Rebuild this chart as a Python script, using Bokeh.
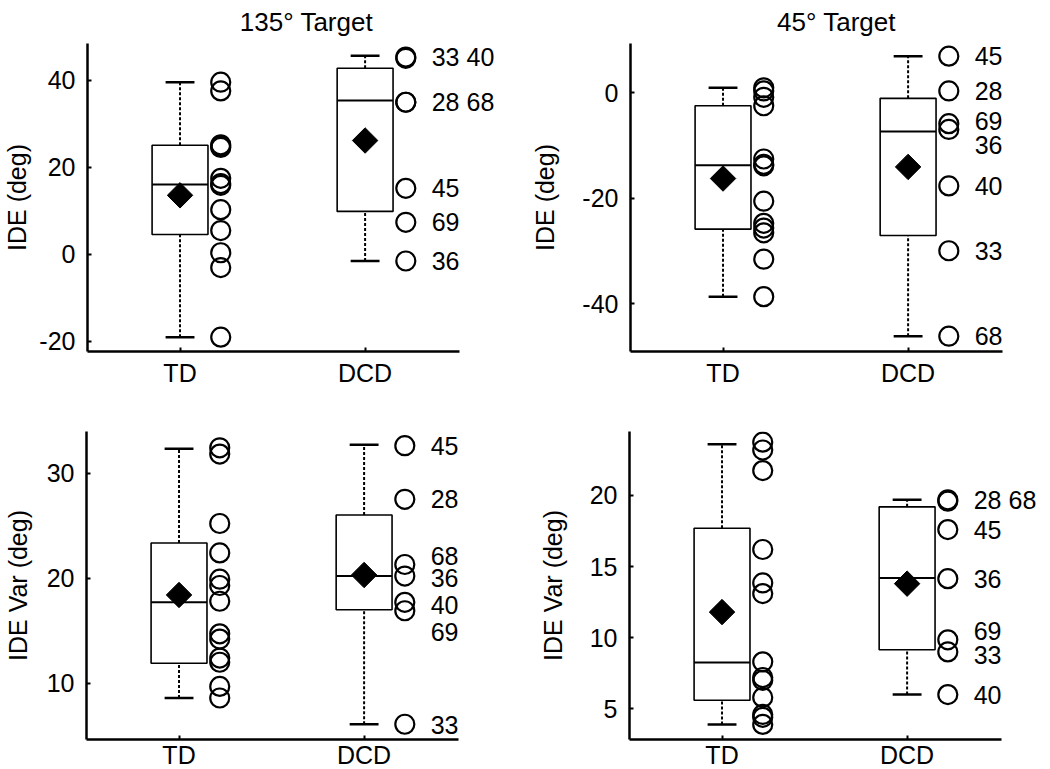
import math
from bokeh.plotting import figure
from bokeh.layouts import column, row
from bokeh.models import Range1d, FixedTicker, ColumnDataSource, LabelSet
from bokeh.embed import file_html
from bokeh.resources import INLINE
from bokeh.core.properties import value

FONT = "Liberation Sans"

groups = ["TD", "DCD"]
group_x = [1, 2]

titles = ["135° Target", "45° Target", "", ""]
ylabels = ["IDE (deg)", "IDE (deg)", "IDE Var (deg)", "IDE Var (deg)"]

# y ticks / labels per panel
yticks = [[-20, 0, 20, 40], [-40, -20, 0], [10, 20, 30], [5, 10, 15, 20]]
yticklabels = [["-20", "0", "20", "40"], ["-40", "-20", "0"], ["10", "20", "30"], ["5", "10", "15", "20"]]
yranges = [(-22.3, 48.5), (-49.1, 9.3), (4.65, 33.95), (2.84, 24.5)]

# box statistics: [TD, DCD]
lo = [[-19.0, -1.5], [-38.7, -46.2], [8.6, 6.1], [3.9, 6.0]]
q1 = [[4.6, 9.9], [-25.9, -27.1], [11.9, 17.0], [5.6, 9.15]]
med = [[16.1, 35.4], [-13.8, -7.4], [17.7, 20.2], [8.25, 14.2]]
q3 = [[25.1, 42.8], [-2.5, -1.1], [23.35, 26.0], [17.7, 19.2]]
hi = [[39.6, 45.7], [0.9, 6.9], [32.3, 32.7], [23.6, 19.7]]
mean = [[13.6, 26.2], [-16.3, -14.1], [18.4, 20.3], [11.8, 13.8]]

# individual subjects
td_vals = [
    [39.6, 37.6, 25.2, 24.9, 24.6, 17.5, 16.3, 15.9, 10.3, 5.5, 0.4, -3.0, -19.0],
    [0.9, 0.3, -0.9, -2.5, -12.6, -13.6, -13.9, -20.6, -24.8, -25.7, -26.6, -31.6, -38.7],
    [32.4, 31.8, 25.2, 22.4, 19.9, 19.3, 17.8, 14.7, 14.2, 12.4, 12.0, 9.7, 8.6],
    [23.75, 23.2, 21.75, 16.2, 13.85, 13.1, 8.3, 7.2, 7.0, 5.8, 4.6, 4.4, 3.9],
]
dcd_vals = [
    [45.4, 45.1, 35.0, 35.0, 15.2, 7.4, -1.5],
    [6.9, 0.3, -5.9, -7.0, -17.7, -30.0, -46.2],
    [32.6, 27.5, 21.3, 20.2, 17.7, 16.9, 6.1],
    [19.7, 19.6, 17.6, 14.15, 9.85, 9.0, 6.0],
]
dcd_labels = [
    ["33 40", "28 68", "45", "69", "36"],
    ["45", "28", "69", "36", "40", "33", "68"],
    ["45", "28", "68", "36", "40", "69", "33"],
    ["28 68", "45", "36", "69", "33", "40"],
]
dcd_label_y = [
    [45.3, 35.0, 15.2, 7.4, -1.5],
    [6.9, 0.3, -5.3, -10.0, -17.7, -30.0, -46.2],
    [32.6, 27.5, 22.1, 20.05, 17.45, 14.9, 6.0],
    [19.65, 17.6, 14.15, 10.5, 8.8, 6.0],
]

PT_OFF = 0.22
LBL_OFF = 0.36
BOX_HW = 0.151
CAP_HW = 0.078
X_LO, X_AXIS_HI = 0.5, 2.51
PX_PER_UNIT = 185.07

FH = 308
layout_spec = [
    dict(bl=79, fw=438, bt=43, bb=45, lstand=5, xstand=7),
    dict(bl=105, fw=412, bt=43, bb=45, lstand=20, xstand=7),
    dict(bl=79, fw=438, bt=35, bb=30, lstand=12, xstand=1),
    dict(bl=105, fw=412, bt=35, bb=30, lstand=20, xstand=1),
]


def make_panel(i):
    s = layout_spec[i]
    x_hi = X_LO + s["fw"] / PX_PER_UNIT
    p = figure(frame_width=s["fw"], frame_height=FH, output_backend="svg", toolbar_location=None,
               x_range=Range1d(X_LO, x_hi), y_range=Range1d(*yranges[i]),
               min_border_left=s["bl"], min_border_right=0,
               min_border_top=s["bt"], min_border_bottom=s["bb"])
    p.outline_line_color = None
    p.xgrid.visible = False
    p.ygrid.visible = False
    p.background_fill_color = "white"
    p.border_fill_color = "white"
    if titles[i]:
        p.title.text = titles[i]
        p.title.align = "center"
        p.title.vertical_align = "top"
        p.title.text_font = FONT
        p.title.text_font_size = "26px"
        p.title.text_font_style = "normal"
        p.title.text_color = "black"
        p.title.standoff = 10
    for ax in (p.xaxis[0], p.yaxis[0]):
        ax.axis_line_width = 2.5
        ax.axis_line_color = "black"
        ax.major_tick_in = 4
        ax.major_tick_out = 0
        ax.major_tick_line_width = 2
        ax.minor_tick_line_color = None
        ax.major_label_text_font = FONT
        ax.major_label_text_font_size = "25px"
        ax.major_label_text_color = "black"
    p.xaxis.bounds = (X_LO, X_AXIS_HI)
    p.xaxis.ticker = FixedTicker(ticks=group_x)
    p.xaxis.major_label_overrides = {gx: g for gx, g in zip(group_x, groups)}
    p.xaxis.major_label_standoff = s["xstand"]
    p.yaxis.ticker = FixedTicker(ticks=yticks[i])
    p.yaxis.major_label_overrides = {t: l for t, l in zip(yticks[i], yticklabels[i])}
    p.yaxis.major_label_standoff = 12
    p.yaxis.axis_label = ylabels[i]
    p.yaxis.axis_label_text_font = FONT
    p.yaxis.axis_label_text_font_size = "25px"
    p.yaxis.axis_label_text_font_style = "normal"
    p.yaxis.axis_label_text_color = "black"
    p.yaxis.axis_label_standoff = s["lstand"]

    xs = group_x
    # whiskers
    p.segment(x0=xs + xs, y0=q3[i] + lo[i], x1=xs + xs, y1=hi[i] + q1[i],
              line_color="black", line_width=2, line_dash="3 2")
    # caps
    p.segment(x0=[x - CAP_HW for x in xs] * 2, y0=hi[i] + lo[i],
              x1=[x + CAP_HW for x in xs] * 2, y1=hi[i] + lo[i],
              line_color="black", line_width=2.5)
    # boxes
    p.quad(left=[x - BOX_HW for x in xs], right=[x + BOX_HW for x in xs],
           bottom=q1[i], top=q3[i], fill_color="white", line_color="black", line_width=1.6)
    # median
    p.segment(x0=[x - BOX_HW for x in xs], y0=med[i], x1=[x + BOX_HW for x in xs], y1=med[i],
              line_color="black", line_width=2)
    # mean
    p.scatter(x=xs, y=mean[i], marker="square", size=18, angle=math.pi / 4,
              fill_color="black", line_color="black", line_width=1)
    # points
    p.scatter(x=[xs[0] + PT_OFF] * len(td_vals[i]), y=td_vals[i], marker="circle", size=19,
              fill_color=None, line_color="black", line_width=2.2)
    p.scatter(x=[xs[1] + PT_OFF] * len(dcd_vals[i]), y=dcd_vals[i], marker="circle", size=19,
              fill_color=None, line_color="black", line_width=2.2)
    src = ColumnDataSource(dict(x=[xs[1] + LBL_OFF] * len(dcd_labels[i]), y=dcd_label_y[i],
                                t=dcd_labels[i]))
    p.add_layout(LabelSet(x="x", y="y", text="t", source=src, text_font=value(FONT),
                          text_font_size=value("25px"), text_baseline="middle", text_align="left",
                          text_color="black"))
    return p


panels = [make_panel(i) for i in range(4)]
layout = column(row(panels[0], panels[1]), row(panels[2], panels[3]))
open("out.html", "w").write(file_html(layout, INLINE))
